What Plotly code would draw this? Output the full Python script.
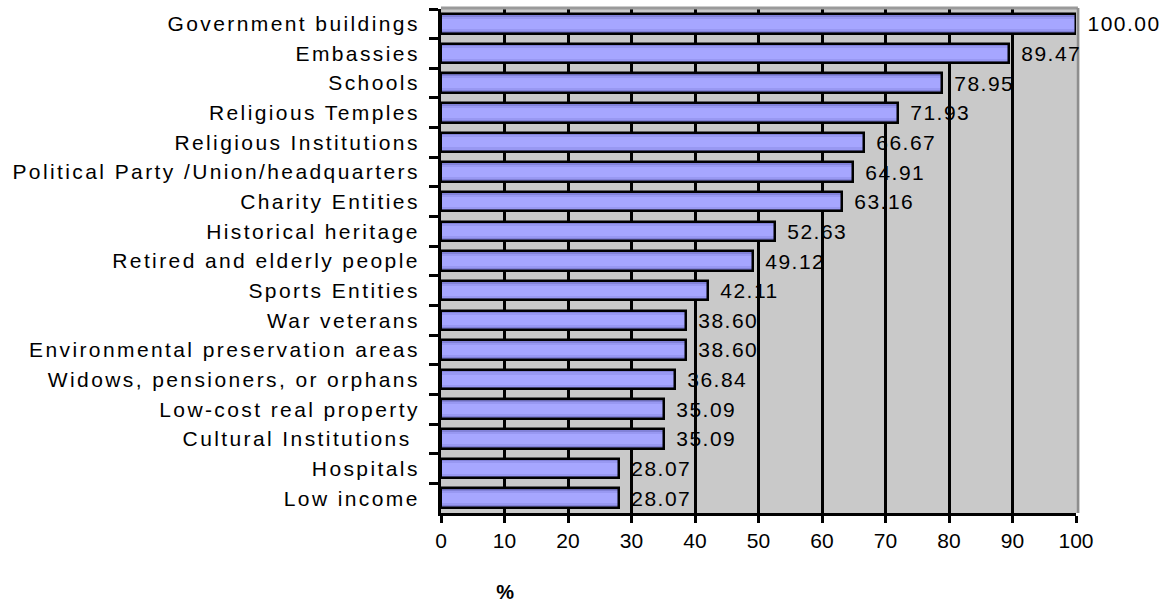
import plotly.graph_objects as go

# Share of respondents (%) per category, top to bottom
categories = [
    "Government buildings",
    "Embassies",
    "Schools",
    "Religious Temples",
    "Religious Institutions",
    "Political Party /Union/headquarters",
    "Charity Entities",
    "Historical heritage",
    "Retired and elderly people",
    "Sports Entities",
    "War veterans",
    "Environmental preservation areas",
    "Widows, pensioners, or orphans",
    "Low-cost real property",
    "Cultural Institutions ",
    "Hospitals",
    "Low income",
]
values = [100.00, 89.47, 78.95, 71.93, 66.67, 64.91, 63.16, 52.63, 49.12,
          42.11, 38.60, 38.60, 36.84, 35.09, 35.09, 28.07, 28.07]
x_ticks = list(range(0, 101, 10))
x_title = "%"

FONT = "Liberation Sans, Arial, Helvetica, sans-serif"
BAR_W = 0.66

fig = go.Figure()

# Layered fills give the bars a shaded (darker edge, lighter centre) look
shades = [(BAR_W, "#6b6bb2"), (0.58, "#8282d8"), (0.48, "#9898f2"), (0.34, "#a6a6ff")]
for w, c in shades:
    fig.add_trace(go.Bar(
        x=values, y=categories, orientation="h", width=w,
        marker=dict(color=c, line=dict(width=0)),
        hoverinfo="skip", showlegend=False,
    ))

# Black outline on top of the fills
fig.add_trace(go.Bar(
    x=values, y=categories, orientation="h", width=BAR_W,
    marker=dict(color="rgba(0,0,0,0)", line=dict(color="black", width=2.5)),
    showlegend=False,
))

# Value labels to the right of each bar
annotations = [
    dict(x=v, y=c, xref="x", yref="y", text=f"{v:.2f}", showarrow=False,
         xanchor="left", yanchor="middle", xshift=14,
         font=dict(family=FONT, size=21, color="black"))
    for c, v in zip(categories, values)
]
annotations.append(dict(
    x=0.102, y=-0.157, xref="paper", yref="paper", text=f"<b>{x_title}</b>",
    showarrow=False, xanchor="center", yanchor="middle",
    font=dict(family=FONT, size=20, color="black"),
))

fig.update_layout(
    width=1167, height=603,
    margin=dict(l=441, r=91, t=9, b=90),
    paper_bgcolor="white",
    plot_bgcolor="#c9c9c9",
    barmode="overlay",
    bargap=0,
    font=dict(family=FONT, size=21, color="black"),
    annotations=annotations,
    shapes=[
        dict(type="line", xref="paper", yref="paper", x0=0, x1=1.003, y0=1.002, y1=1.002,
             line=dict(color="#9a9a9a", width=3), layer="above"),
        dict(type="line", xref="paper", yref="paper", x0=1.003, x1=1.003, y0=0, y1=1.002,
             line=dict(color="#8e8e8e", width=3), layer="above"),
    ],
    xaxis=dict(
        range=[0, 100], tickvals=x_ticks, ticktext=[str(t) for t in x_ticks],
        showgrid=True, gridcolor="black", gridwidth=3, zeroline=False,
        showline=True, linecolor="black", linewidth=3,
        ticks="outside", ticklen=7, tickwidth=3, tickcolor="black",
        tickfont=dict(family=FONT, size=21, color="black"),
        fixedrange=True,
    ),
    yaxis=dict(
        type="category", categoryorder="array", categoryarray=categories,
        autorange="reversed",
        showgrid=False, zeroline=False,
        showline=True, linecolor="black", linewidth=3,
        ticks="outside", tickson="boundaries", ticklen=9, tickwidth=3, tickcolor="black",
        tickfont=dict(family=FONT, size=21, color="black"),
        ticklabelstandoff=14,
        fixedrange=True,
    ),
)

# Wider tracking on the category and value labels
post = """
var s = document.createElement('style');
s.textContent = '.ytick text{letter-spacing:2.4px;} .annotation-text{letter-spacing:1.5px;}';
document.head.appendChild(s);
"""

fig.write_html("out.html", post_script=post, config={"displayModeBar": False})
